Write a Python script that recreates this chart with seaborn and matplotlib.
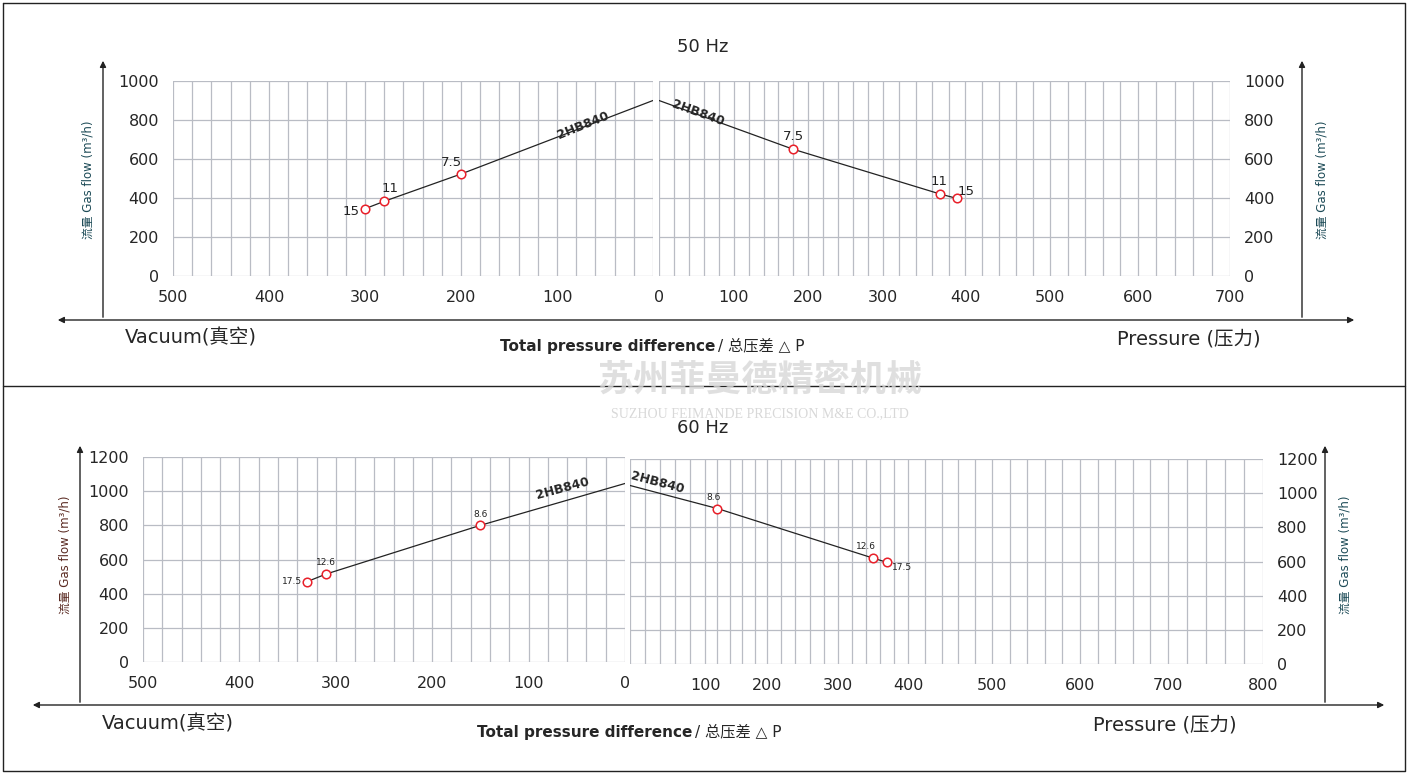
import numpy as np
import matplotlib
matplotlib.use("Agg")
import matplotlib.pyplot as plt
import seaborn as sns
from matplotlib.patches import FancyArrowPatch

sns.set_theme(style="white")
plt.rcParams["font.family"] = ["DejaVu Sans", "Noto Sans CJK SC"]

W, H = 1409, 775
GRID = "#b9bcc4"

# ---- data ----
vac50_line_x = [300, 280, 200, 0]
vac50_line_y = [345, 383, 523, 900]
vac50_pts_x = [300, 280, 200]
vac50_pts_y = [345, 383, 523]
vac50_labels = ["15", "11", "7.5"]

pre50_line_x = [0, 180, 370, 390]
pre50_line_y = [900, 650, 420, 398]
pre50_pts_x = [180, 370, 390]
pre50_pts_y = [650, 420, 398]
pre50_labels = ["7.5", "11", "15"]

vac60_line_x = [330, 310, 150, 0]
vac60_line_y = [470, 515, 800, 1045]
vac60_pts_x = [330, 310, 150]
vac60_pts_y = [470, 515, 800]
vac60_labels = ["17.5", "12.6", "8.6"]

pre60_line_x = [0, 120, 350, 370]
pre60_line_y = [1045, 910, 620, 595]
pre60_pts_x = [120, 350, 370]
pre60_pts_y = [910, 620, 595]
pre60_labels = ["8.6", "12.6", "17.5"]

model = "2HB840"

# pressure axis in the picture is not evenly spaced: tick value -> pixel
pre50_ticks = [0, 100, 200, 300, 400, 500, 600, 700]
pre50_px = [659, 734, 808, 883, 965, 1050, 1138, 1230]
pre60_ticks = [0, 100, 200, 300, 400, 500, 600, 700, 800]
pre60_px = [630, 705, 767, 838, 908, 992, 1080, 1168, 1263]


def rect(x0, x1, ytop, ybot):
    return [x0 / W, 1 - ybot / H, (x1 - x0) / W, (ybot - ytop) / H]


def style_ax(ax, ymax, ystep, right=False):
    for s in ax.spines.values():
        s.set_visible(False)
    ax.set_ylim(0, ymax)
    ax.set_yticks(np.arange(0, ymax + 1, ystep))
    ax.grid(True, which="both", color=GRID, lw=0.9)
    ax.tick_params(length=0, labelsize=11.5, pad=10)
    if right:
        ax.yaxis.tick_right()
    ax.set_axisbelow(True)


def draw_curve(ax, lx, ly, px, py, labels, offs, fs):
    sns.lineplot(x=lx, y=ly, ax=ax, color="#222222", lw=0.9, sort=False,
                 estimator=None)
    ax.scatter(px, py, s=38, facecolor="white", edgecolor="#e8202a",
               lw=1.1, zorder=5)
    for x, y, t, o in zip(px, py, labels, offs):
        ax.annotate(t, (x, y), xytext=o, textcoords="offset points",
                    fontsize=fs, ha="center", va="center", color="#222222")


fig = plt.figure(figsize=(W / 100, H / 100), dpi=100)

# ------------------ 50 Hz ------------------
ax = fig.add_axes(rect(173, 653, 81, 276))
style_ax(ax, 1000, 200)
ax.set_xlim(500, 0)
ax.set_xticks([500, 400, 300, 200, 100, 0])
ax.set_xticks(np.arange(0, 501, 20), minor=True)
ax.set_xticklabels(["500", "400", "300", "200", "100", ""])
draw_curve(ax, vac50_line_x, vac50_line_y, vac50_pts_x, vac50_pts_y,
           vac50_labels, [(-10, -2), (4, 9), (-7, 8)], 9.5)
ax.text(73, 770, model, rotation=22, fontsize=9, fontweight="bold",
        ha="center", va="center")

ax = fig.add_axes(rect(659, 1230, 81, 276))
fwd = lambda v: np.interp(v, pre50_ticks, pre50_px)
inv = lambda p: np.interp(p, pre50_px, pre50_ticks)
ax.set_xscale("function", functions=(fwd, inv))
style_ax(ax, 1000, 200, right=True)
ax.set_xlim(0, 700)
ax.set_xticks(pre50_ticks)
ax.set_xticks(np.arange(0, 701, 20), minor=True)
draw_curve(ax, pre50_line_x, pre50_line_y, pre50_pts_x, pre50_pts_y,
           pre50_labels, [(0, 9), (-1, 9), (7, 5)], 9.5)
ax.text(52, 838, model, rotation=-20, fontsize=9, fontweight="bold",
        ha="center", va="center")

# ------------------ 60 Hz ------------------
ax = fig.add_axes(rect(143, 625, 457, 662))
style_ax(ax, 1200, 200)
ax.set_xlim(500, 0)
ax.set_xticks([500, 400, 300, 200, 100, 0])
ax.set_xticks(np.arange(0, 501, 20), minor=True)
draw_curve(ax, vac60_line_x, vac60_line_y, vac60_pts_x, vac60_pts_y,
           vac60_labels, [(-11, 0), (0, 8), (0, 8)], 6.5)
ax.text(65, 1018, model, rotation=15, fontsize=9, fontweight="bold",
        ha="center", va="center")

ax = fig.add_axes(rect(630, 1263, 459, 664))
fwd6 = lambda v: np.interp(v, pre60_ticks, pre60_px)
inv6 = lambda p: np.interp(p, pre60_px, pre60_ticks)
ax.set_xscale("function", functions=(fwd6, inv6))
style_ax(ax, 1200, 200, right=True)
ax.set_xlim(0, 800)
ax.set_xticks(pre60_ticks)
ax.set_xticks(np.arange(0, 801, 20), minor=True)
ax.set_xticklabels([""] + [str(v) for v in pre60_ticks[1:]])
draw_curve(ax, pre60_line_x, pre60_line_y, pre60_pts_x, pre60_pts_y,
           pre60_labels, [(-3, 8), (-5, 8), (11, -4)], 6.5)
ax.text(37, 1060, model, rotation=-15, fontsize=9, fontweight="bold",
        ha="center", va="center")

# ------------------ frame, arrows, texts ------------------
ov = fig.add_axes([0, 0, 1, 1], zorder=-1)
ov.set_xlim(0, W)
ov.set_ylim(H, 0)
ov.axis("off")
ov.plot([3, 1405, 1405, 3, 3], [3, 3, 771, 771, 3], color="#222", lw=1)
ov.plot([3, 1405], [386, 386], color="#222", lw=1)


def arrow(x0, y0, x1, y1, both=False):
    st = "<|-|>" if both else "-|>"
    ov.add_patch(FancyArrowPatch((x0, y0), (x1, y1), arrowstyle=st,
                                 mutation_scale=9, color="#222", lw=1))


for (vx, vy0, vy1, rx, hy, hx0, hx1) in [(103, 320, 58, 1302, 320, 55, 1357),
                                         (80, 705, 443, 1325, 705, 30, 1387)]:
    arrow(vx, vy0, vx, vy1)
    arrow(rx, vy0, rx, vy1)
    arrow(hx0, hy, hx1, hy, both=True)

for (ttl, tx, ty, yl_y, rl_x, ll_x, vy, px_, tpx, tpy, lcol) in [
        ("50 Hz", 703, 47, 180, 1322, 88, 338, 1117, 500, 346, "#1d4b57"),
        ("60 Hz", 703, 428, 555, 1345, 65, 724, 1093, 477, 732, "#5a2a22")]:
    ov.text(tx, ty, ttl, fontsize=13, ha="center", va="center")
    ov.text(ll_x, yl_y, "流量 Gas flow (m³/h)", rotation=90, fontsize=8.5,
            ha="center", va="center", color=lcol)
    ov.text(rl_x, yl_y, "流量 Gas flow (m³/h)", rotation=90, fontsize=8.5,
            ha="center", va="center", color="#1d4b57")
    ov.text(ll_x + 37, vy, "Vacuum(真空)", fontsize=14, va="center")
    ov.text(px_, vy + 1, "Pressure (压力)", fontsize=14, va="center")
    t = ov.text(tpx, tpy, "Total pressure difference", fontsize=11,
                fontweight="bold", va="center")
    ov.text(tpx + 218, tpy, "/ 总压差 △ P", fontsize=11, va="center")

# faint watermark
ov.text(760, 380, "苏州菲曼德精密机械", fontsize=26, fontweight="bold",
        color="#d8d8d8", ha="center", va="center", alpha=0.8)
ov.text(760, 414, "SUZHOU FEIMANDE PRECISION M&E CO.,LTD", fontsize=10,
        color="#d8d8d8", ha="center", va="center", family="Liberation Serif")

fig.savefig("out.png", dpi=100)
